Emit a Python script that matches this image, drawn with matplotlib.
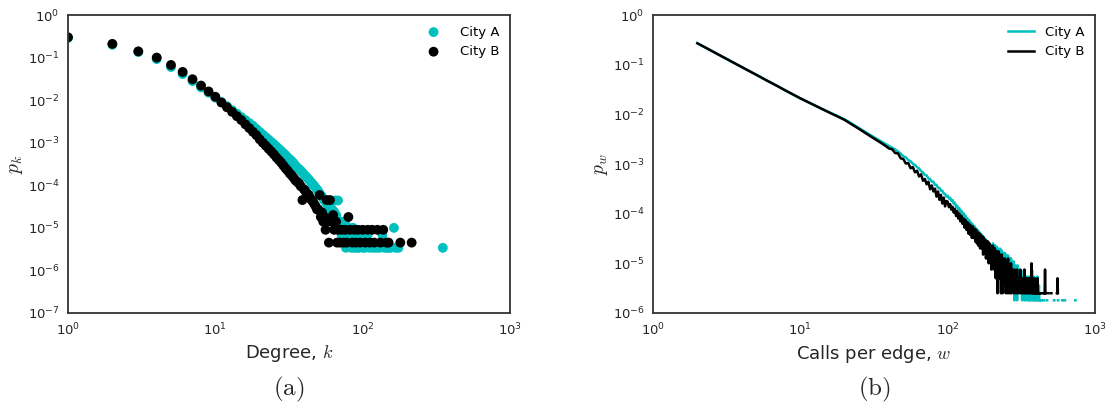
import numpy as np
import matplotlib
matplotlib.use("Agg")
import matplotlib.pyplot as plt

plt.rcParams['font.family'] = ['DejaVu Sans']
plt.rcParams['mathtext.fontset'] = 'cm'

CYAN = '#00bfbf'
SPINE = '#333333'
TEXT = '#262626'

# ---------------- Panel (a): degree distribution ----------------
k_A = [1, 2, 3, 4, 5, 6, 7, 8, 9, 10, 11, 12, 13, 14, 15, 16, 17, 18, 19, 20,
       21, 22, 23, 24, 25, 26, 27, 28, 29, 30, 31, 32, 33, 34, 35, 36, 37, 38, 39, 40,
       41, 42, 43, 44, 45, 46, 47, 48, 49, 50, 51, 52, 53, 54, 55, 56, 57, 58, 59, 60,
       61, 62, 63, 64, 65, 66, 67, 68, 69, 70, 71, 72, 73, 74, 75, 76, 77, 78, 79, 80,
       82, 84, 86, 88, 90, 92, 94, 96, 100, 104, 108, 112, 118, 124, 130, 136, 140,
       146, 150, 155, 163, 168, 175, 350]
p_A = [0.29, 0.20, 0.135, 0.092, 0.060, 0.041, 0.028, 0.020, 0.015, 0.0115,
       0.0090, 0.0072, 0.0058, 0.0048, 0.0040, 0.0034, 0.0029, 0.0025, 0.0021, 0.0018,
       0.00155, 0.00135, 0.00118, 0.00104, 0.00092, 0.00081, 0.00072, 0.00064, 0.00057, 0.00051,
       0.00045, 0.00041, 0.00037, 0.00033, 0.00029, 0.00026, 0.00024, 0.00022, 0.00020, 0.00018,
       0.000165, 0.00015, 0.000137, 0.000125, 0.000114, 0.000104, 0.000095, 0.000087, 0.00008, 0.000072,
       6.5e-5, 5.8e-5, 5.4e-5, 4.8e-5, 4.4e-5, 4.1e-5, 3.7e-5, 3.4e-5, 3.1e-5, 2.7e-5,
       2.4e-5, 2.7e-5, 2.0e-5, 2.4e-5, 4.4e-5, 2.0e-5, 1.4e-5, 4.4e-5, 1.4e-5, 1.0e-5,
       1.4e-5, 6.8e-6, 1.0e-5, 1.0e-5, 6.8e-6, 1.4e-5, 3.4e-6, 1.0e-5, 6.8e-6, 1.0e-5,
       6.8e-6, 3.4e-6, 1.0e-5, 3.4e-6, 6.8e-6, 3.4e-6, 3.4e-6, 6.8e-6, 3.4e-6, 3.4e-6,
       6.8e-6, 3.4e-6, 3.4e-6, 3.4e-6, 3.4e-6, 6.8e-6, 3.4e-6,
       3.4e-6, 3.4e-6, 3.4e-6, 1.0e-5, 3.4e-6, 3.4e-6, 3.4e-6]

k_B = [1, 2, 3, 4, 5, 6, 7, 8, 9, 10, 11, 12, 13, 14, 15, 16, 17, 18, 19, 20,
       21, 22, 23, 24, 25, 26, 27, 28, 29, 30, 31, 32, 33, 34, 35, 36, 37, 38, 39, 40,
       41, 42, 43, 44, 45, 46, 47, 48, 49, 50, 51, 52, 53, 54, 55, 56, 57, 58, 59, 60,
       62, 63, 64, 66, 67, 68, 70, 72, 74, 76, 78, 80, 82, 85, 88, 90, 93, 96,
       100, 104, 108, 112, 116, 120, 126, 132, 138, 145, 150, 180, 215]
p_B = [0.30, 0.21, 0.14, 0.10, 0.067, 0.046, 0.031, 0.022, 0.016, 0.012,
       0.0088, 0.0068, 0.0053, 0.0042, 0.0034, 0.0027, 0.0022, 0.0018, 0.0015, 0.0012,
       0.00100, 0.00085, 0.00072, 0.00062, 0.00053, 0.00045, 0.00039, 0.00034, 0.00029, 0.00025,
       0.00022, 0.00019, 0.00017, 0.00015, 0.00013, 0.00012, 0.00011, 0.000095, 4.5e-5, 0.00008,
       7.2e-5, 6.3e-5, 5.9e-5, 5.0e-5, 4.5e-5, 4.1e-5, 3.6e-5, 3.2e-5, 2.7e-5, 2.7e-5,
       5.9e-5, 1.8e-5, 2.3e-5, 1.4e-5, 1.8e-5, 9.0e-6, 4.5e-5, 1.4e-5, 4.5e-6, 4.5e-5,
       1.4e-5, 2.0e-5, 9.0e-6, 1.4e-5, 4.5e-6, 9.0e-6, 4.5e-6, 9.0e-6, 4.5e-6, 9.0e-6,
       4.5e-6, 1.8e-5, 9.0e-6, 4.5e-6, 9.0e-6, 4.5e-6, 9.0e-6, 4.5e-6,
       9.0e-6, 4.5e-6, 9.0e-6, 4.5e-6, 9.0e-6, 4.5e-6, 9.0e-6, 4.5e-6, 9.0e-6, 4.5e-6,
       4.5e-6, 4.5e-6, 4.5e-6]

# ---------------- Panel (b): calls per edge ----------------
w_smooth = [2, 3, 4, 5, 6, 7, 8, 9, 10, 12, 14, 16, 18, 20, 25, 30, 35, 38]
pw_A_smooth = [0.27, 0.141, 0.089, 0.063, 0.047, 0.037, 0.0297, 0.0247, 0.021, 0.0161,
               0.0129, 0.0107, 0.0091, 0.0079, 0.0053, 0.0038, 0.0029, 0.0025]
pw_B_smooth = [0.27, 0.142, 0.090, 0.063, 0.047, 0.037, 0.0298, 0.0248, 0.021, 0.0161,
               0.0129, 0.0106, 0.0090, 0.0077, 0.0051, 0.0036, 0.0027, 0.0023]

w_mid = [40, 42, 44, 46, 48, 50, 52, 54, 56, 58, 60, 62, 64, 66, 68, 70, 72, 74, 76, 78,
         80, 82, 84, 86, 88, 90, 92, 94, 96, 98]
pw_A_mid = [2.3e-3, 2.12e-3, 1.97e-3, 1.78e-3, 1.62e-3, 1.43e-3, 1.36e-3, 1.20e-3, 1.14e-3, 1.01e-3,
            0.96e-3, 0.86e-3, 0.81e-3, 0.72e-3, 0.68e-3, 0.60e-3, 0.59e-3, 0.51e-3, 0.50e-3, 0.44e-3,
            0.44e-3, 0.38e-3, 0.38e-3, 0.33e-3, 0.33e-3, 0.29e-3, 0.29e-3, 0.255e-3, 0.25e-3, 0.22e-3]
pw_B_mid = [2.05e-3, 1.98e-3, 1.66e-3, 1.64e-3, 1.30e-3, 1.26e-3, 1.02e-3, 1.05e-3, 0.82e-3, 0.87e-3,
            0.68e-3, 0.73e-3, 0.56e-3, 0.62e-3, 0.46e-3, 0.50e-3, 0.39e-3, 0.44e-3, 0.31e-3, 0.37e-3,
            0.28e-3, 0.32e-3, 0.22e-3, 0.28e-3, 0.19e-3, 0.24e-3, 0.16e-3, 0.21e-3, 0.14e-3, 0.18e-3]

# Tail: edge counts per sampled w (one edge = unit probability); 0 = no edge (gap)
unit_A = 1.8e-6
unit_B = 2.5e-6
tail1_w = list(range(100, 202, 2))
tail2_w = list(range(203, 305, 3))
counts_A_1 = [128, 112, 116, 100, 104, 88, 92, 76, 80, 68, 72, 60, 64, 53, 57, 47, 51, 42, 45, 37,
              41, 33, 37, 30, 34, 27, 31, 25, 28, 22, 26, 20, 24, 18, 22, 16, 20, 15, 19, 13,
              17, 12, 16, 11, 15, 10, 14, 9, 13, 8, 12]
counts_B_1 = [70, 54, 62, 48, 55, 42, 50, 36, 45, 32, 40, 28, 36, 25, 32, 21, 30, 19, 27, 16,
              25, 15, 23, 13, 22, 13, 20, 11, 19, 10, 17, 9, 16, 8, 15, 8, 14, 6, 13, 7,
              12, 5, 11, 6, 11, 4, 10, 5, 9, 3, 9]
counts_A_2 = [14, 8, 13, 7, 12, 6, 11, 5, 11, 5, 10, 4, 9, 4, 9, 3, 8, 3, 8, 2,
              7, 3, 7, 2, 6, 2, 6, 1, 5, 2, 5, 1, 5, 2]
counts_B_2 = [9, 3, 8, 2, 7, 1, 7, 2, 6, 1, 6, 1, 5, 2, 5, 1, 4, 1, 5, 1,
              3, 1, 4, 1, 3, 2, 1, 3, 1, 2, 1, 3, 1, 2]
counts_A_3 = [3, 2, 4, 2, 3, 1, 3, 2, 4, 1,
              3, 2, 1, 3, 2, 1, 3, 1, 2, 1,
              3, 1, 2, 4, 1, 2, 1, 3, 1, 2,
              1, 2, 1, 1, 3, 1, 1, 2, 1, 1,
              0, 1, 1, 0, 1, 0, 0, 1, 1, 0,
              0, 1, 0, 0, 0, 1, 1, 0, 0, 0,
              0, 0, 1, 0, 0, 0, 0, 0, 0, 0,
              0, 0, 0, 0, 1, 1, 0, 0, 0, 0,
              0, 0, 0, 0, 0, 1, 1, 0, 0, 0,
              0, 0, 0, 0, 0, 0, 0, 0, 1, 1,
              0, 0, 0, 0, 0, 0, 1, 1, 0, 0,
              0, 0, 0, 0, 0, 0, 0, 0, 0, 0,
              0, 0, 0, 0, 0, 0, 0, 0, 0, 0,
              0, 0, 0, 0, 0, 0, 0, 0, 0, 0,
              0, 0, 0, 1, 1, 0]
counts_B_3 = [2, 1, 3, 1, 2, 1, 1, 2, 1, 3,
              1, 2, 1, 1, 2, 1, 1, 0, 2, 1,
              1, 1, 4, 1, 1, 2, 1, 0, 1, 2,
              1, 1, 0, 1, 2, 1, 1, 0, 1, 1,
              0, 1, 1, 0, 0, 1, 0, 1, 1, 0,
              1, 3, 1, 0, 0, 1, 0, 0, 1, 1,
              0, 0, 1, 0, 0, 0, 1, 1, 0, 0,
              0, 1, 0, 0, 0, 1, 0, 0, 0, 0,
              0, 0, 1, 1, 2, 1]
tail3_wA = list(range(305, 305 + 3 * len(counts_A_3), 3))
tail3_wB = list(range(305, 305 + 3 * len(counts_B_3), 3))


def build_series(smooth, mid, unit, c1, c2, c3, w3):
    w = w_smooth + w_mid + tail1_w + tail2_w + w3
    counts = c1 + c2 + c3
    tail = [c * unit if c > 0 else np.nan for c in counts]
    p = smooth + mid + tail
    return np.array(w, float), np.array(p, float)


wA, pA = build_series(pw_A_smooth, pw_A_mid, unit_A, counts_A_1, counts_A_2, counts_A_3, tail3_wA)
wB, pB = build_series(pw_B_smooth, pw_B_mid, unit_B, counts_B_1, counts_B_2, counts_B_3, tail3_wB)

fig = plt.figure(figsize=(11.15, 4.09), dpi=100)
ax1 = fig.add_axes([68 / 1115, 96 / 409, 442 / 1115, 298 / 409])
ax2 = fig.add_axes([653 / 1115, 96 / 409, 442 / 1115, 298 / 409])

ax1.scatter(k_A, p_A, s=50, color=CYAN, edgecolors='none', label='City A', zorder=2)
ax1.scatter(k_B, p_B, s=50, color='black', edgecolors='none', label='City B', zorder=3)
ax1.set_xscale('log')
ax1.set_yscale('log')
ax1.set_xlim(1, 1000)
ax1.set_ylim(1e-7, 1)
ax1.set_xlabel('Degree, $k$', fontsize=13, color=TEXT)
ax1.set_ylabel('$p_k$', fontsize=14, color=TEXT, labelpad=2)

ax2.plot(wA, pA, color=CYAN, lw=1.8, label='City A', solid_capstyle='projecting')
ax2.plot(wB, pB, color='black', lw=1.8, label='City B', solid_capstyle='projecting')
ax2.set_xscale('log')
ax2.set_yscale('log')
ax2.set_xlim(1, 1000)
ax2.set_ylim(1e-6, 1)
ax2.set_xlabel('Calls per edge, $w$', fontsize=13, color=TEXT)
ax2.set_ylabel('$p_w$', fontsize=14, color=TEXT, labelpad=2)

for ax in (ax1, ax2):
    for sp in ax.spines.values():
        sp.set_color(SPINE)
        sp.set_linewidth(1.3)
        sp.set_zorder(5)
    ax.tick_params(which='both', length=0, labelsize=9.5, labelcolor=TEXT, pad=6)
    ax.minorticks_off()

ax1.legend(loc='upper right', frameon=False, fontsize=9.5, scatterpoints=1,
           handletextpad=1.0, borderaxespad=0.4)
ax2.legend(loc='upper right', frameon=False, fontsize=9.5, handlelength=2.0,
           handletextpad=0.8, borderaxespad=0.4)

fig.text((68 + 510) / 2 / 1115, 1 - 389 / 409, r'$\mathrm{(a)}$', fontsize=18,
         ha='center', va='center', color=TEXT)
fig.text((653 + 1095) / 2 / 1115, 1 - 389 / 409, r'$\mathrm{(b)}$', fontsize=18,
         ha='center', va='center', color=TEXT)

fig.savefig('out.png', dpi=100)
